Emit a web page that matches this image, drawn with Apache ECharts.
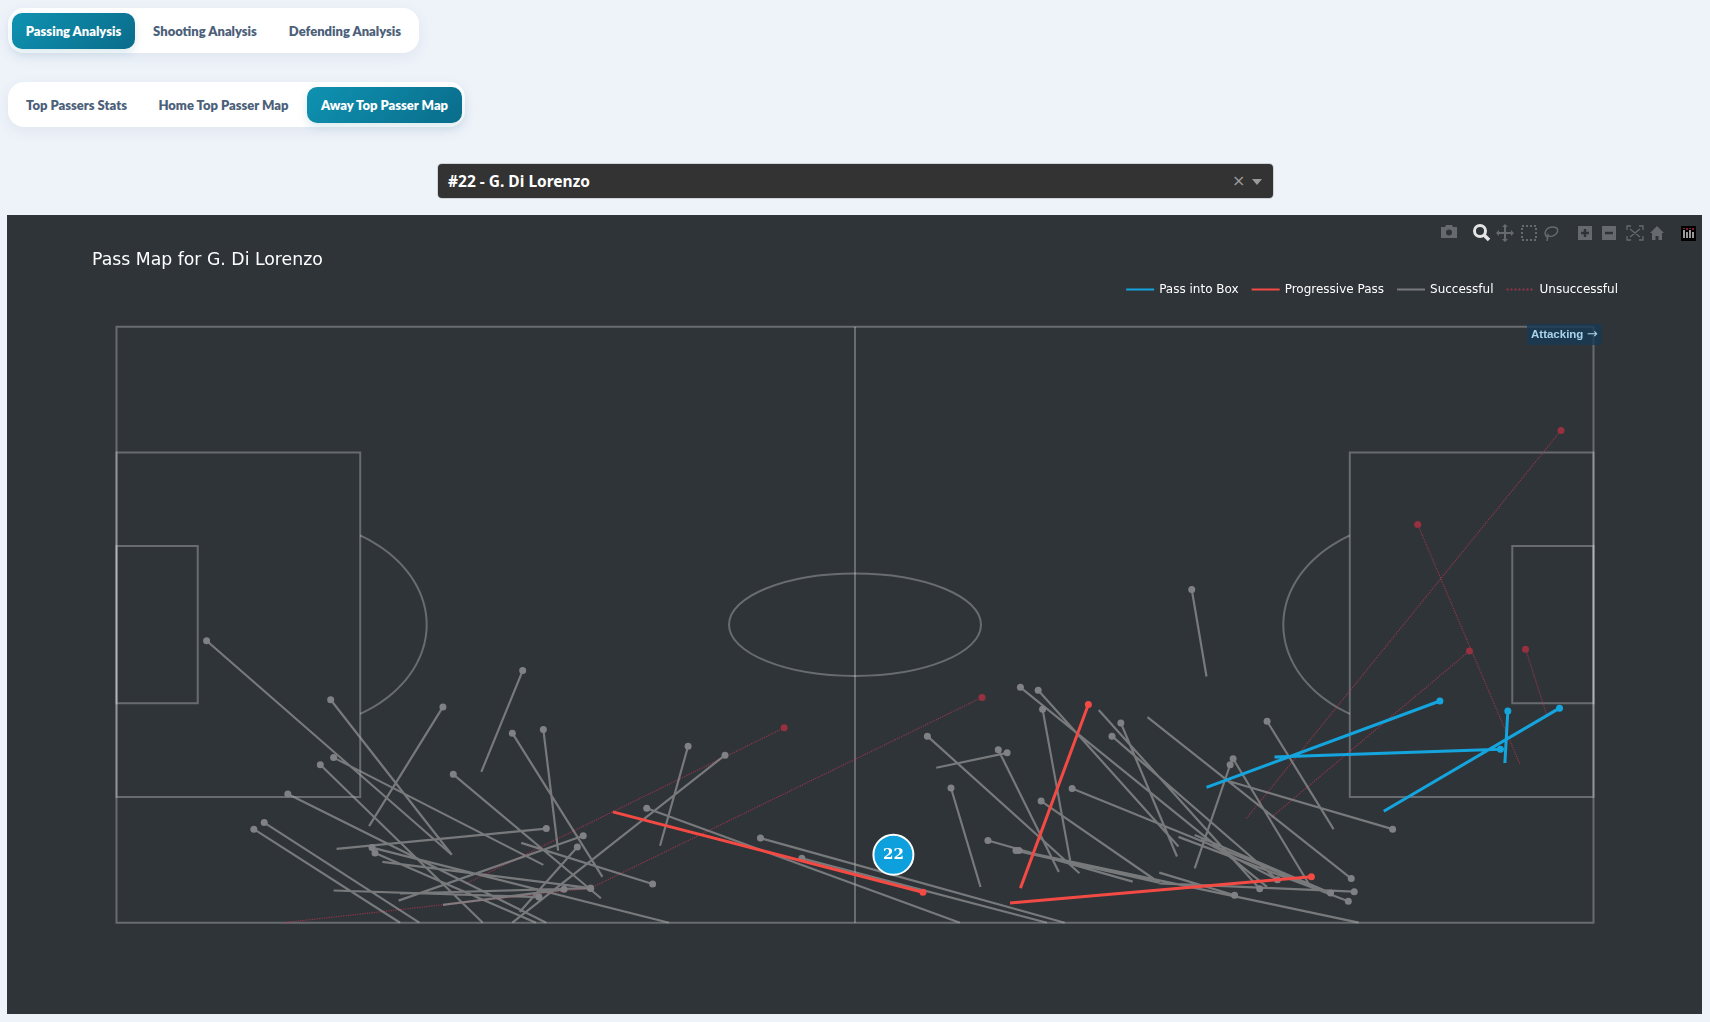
<!DOCTYPE html>
<html>
<head>
<meta charset="utf-8">
<title>Pass Map</title>
<script src="https://cdn.jsdelivr.net/npm/echarts@6/dist/echarts.min.js"></script>
<style>
	html,body{margin:0;padding:0;width:1710px;height:1022px;overflow:hidden;background:#eef3fa;}
	.pill{position:absolute;left:8px;background:#fff;border-radius:16px;box-shadow:0 4px 14px rgba(60,80,110,0.08);}
	.tab{position:absolute;height:36px;line-height:36px;text-align:center;border-radius:10px;font:800 13px/36px Lato,sans-serif;color:#4b6079;white-space:nowrap;}
	.tab.on{color:#fff;background:linear-gradient(135deg,#0f92b1,#0a6c8b);box-shadow:0 4px 10px rgba(10,108,139,0.15);}
	#select{position:absolute;left:438px;top:164px;width:835px;height:34px;background:#333333;border-radius:4px;box-shadow:0 0 0 1px #cfd3d8;color:#fff;font:700 15.5px/35px "Noto Sans",sans-serif;}
	#select .val{position:absolute;left:10px;}
	#select .clr{position:absolute;left:794px;top:0;color:#9a9a9a;font:400 16px/34px "DejaVu Sans",sans-serif;}
	#select .arr{position:absolute;left:814px;top:15px;width:0;height:0;border:5px solid transparent;border-top:6px solid #9a9a9a;}
	#panel{position:absolute;left:7px;top:215px;width:1695px;height:799px;background:#2f3439;}
	#chart{position:absolute;left:0;top:0;width:1695px;height:799px;}
	#modebar{position:absolute;left:0;top:0;}
</style>
</head>
<body>
	<div class="pill" style="top:8px;width:411px;height:45px;"></div>
	<div class="tab on" style="left:12px;top:13px;width:123px;">Passing Analysis</div>
	<div class="tab" style="left:141px;top:13px;width:128px;">Shooting Analysis</div>
	<div class="tab" style="left:276px;top:13px;width:138px;">Defending Analysis</div>

	<div class="pill" style="top:82px;width:457px;height:45px;"></div>
	<div class="tab" style="left:14px;top:87px;width:125px;">Top Passers Stats</div>
	<div class="tab" style="left:146px;top:87px;width:155px;">Home Top Passer Map</div>
	<div class="tab on" style="left:307px;top:87px;width:155px;">Away Top Passer Map</div>

	<div id="select">
		<span class="val">#22 - G. Di Lorenzo</span>
		<span class="clr">×</span>
		<span class="arr"></span>
	</div>

	<div id="panel">
		<div id="chart"></div>
		<svg id="modebar" width="1695" height="40" fill="#666a6e" stroke="none">
			<!-- camera -->
			<path d="M1434 12h4l1-2h6l1 2h4v11h-16z"/><circle cx="1442" cy="17.5" r="3" fill="#2f3439"/>
			<!-- zoom, active -->
			<circle cx="1473" cy="16" r="5.5" fill="none" stroke="#e4e4e4" stroke-width="3"/><path d="M1477 20l5 5" stroke="#e4e4e4" stroke-width="3.5"/>
			<!-- pan -->
			<path d="M1491 18h14M1498 11v14" stroke="#666a6e" stroke-width="2"/><path d="M1498 9l-3 3h6zM1498 27l-3-3h6zM1489 18l3-3v6zM1507 18l-3-3v6z"/>
			<!-- box select -->
			<rect x="1515" y="11" width="14" height="14" fill="none" stroke="#666a6e" stroke-width="2" stroke-dasharray="2 2"/>
			<!-- lasso -->
			<path d="M1540 22c-4-4-1-10 6-10c5 0 6 4 3 7c-3 3-7 3-8 1l-1 6" fill="none" stroke="#666a6e" stroke-width="1.5"/>
			<!-- plus, minus -->
			<rect x="1571" y="11" width="14" height="14"/><path d="M1578 14v8M1574 18h8" stroke="#2f3439" stroke-width="2.5"/>
			<rect x="1595" y="11" width="14" height="14"/><path d="M1598 18h8" stroke="#2f3439" stroke-width="2.5"/>
			<!-- autoscale -->
			<path d="M1620 15v-4h4M1632 11h4v4M1636 21v4h-4M1624 25h-4v-4M1623 14l10 8M1633 14l-10 8" fill="none" stroke="#666a6e" stroke-width="1.3"/>
			<!-- home -->
			<path d="M1643 18l7-7l7 7h-2v7h-3.5v-4h-3v4h-3.5v-7z"/>
			<!-- logo -->
			<rect x="1674" y="11" width="15" height="15" fill="#000"/>
			<path d="M1677 15v8M1680 17v6M1683 15v8M1686 17v6" stroke="#fff" stroke-width="1.2"/>
			<path d="M1677 13v1M1680 13v2M1683 13v1M1686 13v2" stroke="#d0366b" stroke-width="1.2"/>
		</svg>
	</div>

<script>
	//传球数据 [起点x,起点y,终点x,终点y], pitch 0-100 both ways, attacking to the right
	var intoBoxPasses=[
		[73.8,22.7,89.6,37.2],
		[78.4,27.8,93.7,29.1],
		[85.8,18.7,97.7,36],
		[94,26.8,94.2,35.5]
	];
	var progressivePasses=[
		[33.6,18.6,54.6,5.1],
		[61.2,5.8,65.8,36.6],
		[60.5,3.3,80.9,7.7]
	];
	var successfulPasses=[
		[22.7,11.4,6.1,47.3],
		[22.7,11.4,14.5,37.4],
		[17.1,16.2,22.1,36.2],
		[24.8,0,13.8,26.5],
		[28.9,9.7,14.7,27.7],
		[32.8,4.1,22.8,24.9],
		[29.1,0,11.6,21.6],
		[20.5,0,10,16.8],
		[19.2,0,9.3,15.7],
		[14.9,12.4,29.1,15.8],
		[37.4,0,17.3,12.6],
		[28.4,0,17.5,11.7],
		[18,10.2,32.1,5.8],
		[19.1,3.7,31.6,14.6],
		[27.3,1.8,31.2,12.7],
		[26.8,0,41.2,28.1],
		[36.8,12.9,38.7,29.6],
		[29.9,12.1,28.9,32.4],
		[32.9,7.7,26.8,31.8],
		[24.7,25.3,27.5,42.3],
		[27.4,13.4,36.3,6.5],
		[57.1,0,35.9,19.2],
		[64.2,0,43.6,14.2],
		[63,0,46.4,10.8],
		[14.7,5.4,28.6,4.3],
		[19.2,4.9,32.1,5.8],
		[22.1,3,30.3,5.6],
		[65.2,8.3,54.9,31.3],
		[55.5,26,60.3,28.5],
		[63.8,8.5,59.7,29],
		[58.5,6,56.5,22.6],
		[68.8,6.9,59,13.8],
		[70.6,6.7,60.9,12.1],
		[84.1,0,61.1,12.1],
		[70.6,8.4,75.7,4.6],
		[70.6,6.6,83.8,5.2],
		[77.9,6,61.2,39.5],
		[71.9,12.8,62.4,39],
		[64.6,10,62.7,35.8],
		[78.6,7.2,67.4,31.3],
		[82.2,4.9,64.7,22.5],
		[70.6,6.7,62.6,20.4],
		[66.5,35.7,77.4,5.7],
		[71.8,11.1,68,33.5],
		[73,9.1,75.4,26.5],
		[80.8,6.2,75.6,27.5],
		[69.8,34.5,83.6,7.4],
		[75.1,23.9,86.4,15.7],
		[82.4,15.7,77.9,33.8],
		[71.9,14.4,83.4,3.6],
		[73,14.7,82.2,5],
		[73.4,13.9,78.6,7.2],
		[73.8,41.3,72.8,55.9]
	];
	var unsuccessfulPasses=[
		[76.5,17.5,97.8,82.6],
		[78.1,17.5,91.6,45.6],
		[95,26.7,88.1,66.8],
		[96.8,35.1,95.4,45.9],
		[23.7,6.6,45.2,32.7],
		[32.1,5.8,58.6,37.8],
		[11.3,0,32.1,5.8]
	];
	//平均位置
	var playerNumber="22";
	var playerPosition=[52.6,11.4];

	//球场线
	var pitchRects=[[0,0,100,100],[0,21.1,16.5,78.9],[83.5,21.1,100,78.9],[0,36.8,5.5,63.2],[94.5,36.8,100,63.2]];
	var halfwayLine=[50,0,50,100];
	var centreCircle=[50,50,8.53,8.6];
	//[圆心x,圆心y,rx,ry,禁区线x]
	var penaltyArcs=[[11.5,50,9.5,17.6,16.5],[88.5,50,9.5,17.6,83.5]];

	var legendNames=["Pass into Box","Progressive Pass","Successful","Unsuccessful"];
	var FONT='"DejaVu Sans",sans-serif';
	var PITCH_STYLE={fill:"none",stroke:"rgba(255,255,255,0.28)",lineWidth:2};

	//每条传球一段，只有终点画圆点，用空值断开
	function buildLine(list,dotSize){
		var data=[];
		for(var i=0;i<list.length;i++){
			data.push({value:[list[i][0],list[i][1]],symbolSize:0});
			data.push({value:[list[i][2],list[i][3]],symbolSize:dotSize});
			data.push({value:["-","-"]});
		}
		return data;
	}

	function passSeries(name,list,color,dotColor,width,type,dotSize,z){
		return {
			name:name,
			type:"line",
			data:buildLine(list,dotSize),
			symbol:"circle",
			showAllSymbol:true,
			connectNulls:false,
			silent:true,
			z:z,
			lineStyle:{color:color,width:width,type:type},
			itemStyle:{color:dotColor},
			emphasis:{disabled:true}
		};
	}

	function renderPitch(params,api){
		var children=[];
		for(var i=0;i<pitchRects.length;i++){
			var r=pitchRects[i];
			var a=api.coord([r[0],r[3]]);
			var b=api.coord([r[2],r[1]]);
			children.push({type:"rect",shape:{x:a[0],y:a[1],width:b[0]-a[0],height:b[1]-a[1]},style:PITCH_STYLE});
		}
		var h1=api.coord([halfwayLine[0],halfwayLine[1]]);
		var h2=api.coord([halfwayLine[2],halfwayLine[3]]);
		children.push({type:"line",shape:{x1:h1[0],y1:h1[1],x2:h2[0],y2:h2[1]},style:PITCH_STYLE});

		var c=api.coord([centreCircle[0],centreCircle[1]]);
		var s=api.size([centreCircle[2],centreCircle[3]]);
		children.push({type:"ellipse",shape:{cx:c[0],cy:c[1],rx:s[0],ry:s[1]},style:PITCH_STYLE});

		//禁区弧，只画禁区外面那段
		for(var k=0;k<penaltyArcs.length;k++){
			var arc=penaltyArcs[k];
			var half=Math.acos(Math.abs(arc[4]-arc[0])/arc[2]);
			var mid=arc[0]<50?0:Math.PI;
			var pts=[];
			for(var t=0;t<=60;t++){
				var ang=mid-half+2*half*t/60;
				pts.push(api.coord([arc[0]+arc[2]*Math.cos(ang),arc[1]+arc[3]*Math.sin(ang)]));
			}
			children.push({type:"polyline",shape:{points:pts},style:PITCH_STYLE});
		}
		return {type:"group",children:children};
	}

	var chart=echarts.init(document.getElementById("chart"));
	chart.setOption({
		animation:false,
		backgroundColor:"transparent",
		title:{
			text:"Pass Map for G. Di Lorenzo",
			left:85,
			top:37,
			padding:0,
			textStyle:{color:"#ffffff",fontFamily:FONT,fontSize:17.3,fontWeight:"normal"}
		},
		legend:{
			data:legendNames,
			right:84,
			top:68.5,
			padding:0,
			itemWidth:28,
			itemHeight:2,
			itemGap:12,
			selectedMode:false,
			itemStyle:{opacity:0},
			textStyle:{color:"#ffffff",fontFamily:FONT,fontSize:12}
		},
		grid:{left:109.5,top:111.7,width:1477,height:596,containLabel:false},
		xAxis:{type:"value",min:0,max:100,show:false},
		yAxis:{type:"value",min:0,max:100,show:false},
		graphic:[{
			type:"text",
			left:1520,
			top:109,
			z:50,
			style:{
				text:"{a|Attacking} {b|→}",
				rich:{
					a:{fill:"#a9d3ea",font:'700 11.5px "Liberation Sans",sans-serif'},
					b:{fill:"#a9d3ea",font:'400 13px "DejaVu Sans",sans-serif'}
				},
				backgroundColor:"rgba(22,58,84,0.8)",
				padding:[4,4]
			}
		}],
		series:[
			{type:"custom",silent:true,z:1,data:[0],renderItem:renderPitch},
			passSeries(legendNames[3],unsuccessfulPasses,"rgba(190,55,80,0.7)","#97303f",1.2,"dotted",7,2),
			passSeries(legendNames[2],successfulPasses,"rgba(165,165,165,0.62)","#808184",2.2,"solid",7,3),
			passSeries(legendNames[1],progressivePasses,"#f44a44","#f44a44",3,"solid",7,4),
			passSeries(legendNames[0],intoBoxPasses,"#14a5de","#14a5de",3,"solid",7,5),
			{
				type:"scatter",
				silent:true,
				z:6,
				data:[playerPosition],
				symbolSize:40,
				itemStyle:{color:"#0ea0dd",borderColor:"#ffffff",borderWidth:2,opacity:1},
				label:{show:true,position:"inside",formatter:playerNumber,color:"#ffffff",fontFamily:"'DejaVu Serif',serif",fontWeight:"bold",fontSize:15}
			}
		]
	});
</script>
</body>
</html>
